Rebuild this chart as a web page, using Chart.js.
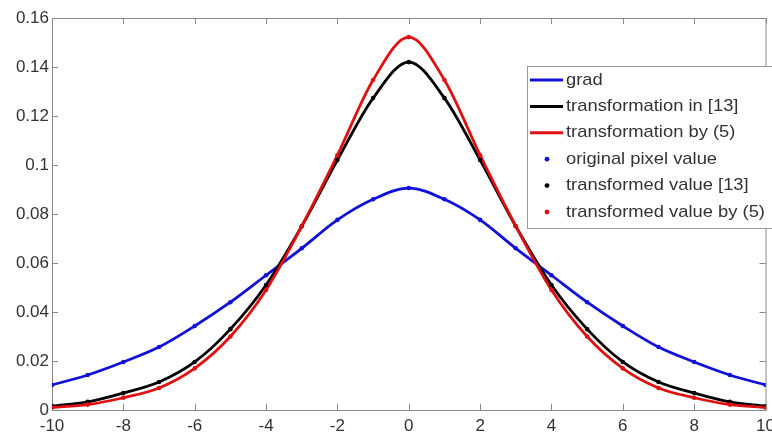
<!DOCTYPE html>
<html>
<head>
<meta charset="utf-8">
<script src="https://cdn.jsdelivr.net/npm/chart.js@4.4.0/dist/chart.umd.min.js"></script>
<style>
html, body { margin: 0; padding: 0; background: #fff; overflow: hidden; }
#wrap { width: 781px; height: 437px; }
</style>
</head>
<body>
<div id="wrap"><canvas id="chart"></canvas></div>
<script>
// values, x = -10 .. 10
const xValues = [-10, -9, -8, -7, -6, -5, -4, -3, -2, -1, 0, 1, 2, 3, 4, 5, 6, 7, 8, 9, 10];
const gradValues = [0.0102, 0.0143, 0.0196, 0.0257, 0.0343, 0.044, 0.055, 0.066, 0.0776, 0.086, 0.0906,
                    0.086, 0.0776, 0.066, 0.055, 0.044, 0.0343, 0.0257, 0.0196, 0.0143, 0.0102];
const trans13Values = [0.0016, 0.0033, 0.0069, 0.0114, 0.0196, 0.033, 0.051, 0.075, 0.102, 0.1273, 0.142,
                       0.1273, 0.102, 0.075, 0.051, 0.033, 0.0196, 0.0114, 0.0069, 0.0033, 0.0016];
const trans5Values = [0.001, 0.0022, 0.005, 0.009, 0.017, 0.030, 0.049, 0.075, 0.104, 0.1347, 0.1522,
                      0.1347, 0.104, 0.075, 0.049, 0.030, 0.017, 0.009, 0.005, 0.0022, 0.001];
const xTickValues = [-10, -8, -6, -4, -2, 0, 2, 4, 6, 8, 10];
const yTickValues = [0, 0.02, 0.04, 0.06, 0.08, 0.1, 0.12, 0.14, 0.16];

const BLUE = '#1010d8';
const BLACK = '#000000';
const RED = '#e01010';
const FONT = '"Liberation Sans", Arial, sans-serif';

function toPoints(values) {
    return xValues.map((x, i) => ({ x: x, y: values[i] }));
}

function lineSet(label, values, color, order) {
    return {
        label, data: toPoints(values), borderColor: color, backgroundColor: color,
        borderWidth: 2.8, pointRadius: 0, showLine: true,
        cubicInterpolationMode: 'monotone', order
    };
}

function dotSet(label, values, color, order) {
    return {
        label, data: toPoints(values), borderColor: color, backgroundColor: color,
        pointRadius: 2.3, pointBorderWidth: 0, showLine: false, order
    };
}

// box round the plot with small inward ticks, matlab style
const frame = {
    id: 'frame',
    beforeDatasetsDraw(chart) {
        const { ctx, chartArea: a, scales } = chart;
        ctx.save();
        ctx.strokeStyle = '#8a8a8a';
        ctx.lineWidth = 1;
        ctx.strokeRect(a.left + 0.5, a.top + 0.5, a.right - a.left, a.bottom - a.top);
        ctx.beginPath();
        xTickValues.forEach(v => {
            const px = Math.round(scales.x.getPixelForValue(v)) + 0.5;
            ctx.moveTo(px, a.bottom); ctx.lineTo(px, a.bottom - 6);
            ctx.moveTo(px, a.top); ctx.lineTo(px, a.top + 6);
        });
        yTickValues.forEach(v => {
            const py = Math.round(scales.y.getPixelForValue(v)) + 0.5;
            ctx.moveTo(a.left, py); ctx.lineTo(a.left + 6, py);
            ctx.moveTo(a.right, py); ctx.lineTo(a.right - 6, py);
        });
        ctx.stroke();
        ctx.restore();
    }
};

const legendBox = {
    id: 'legendBox',
    afterDraw(chart) {
        const ctx = chart.ctx;
        const x0 = 527, y0 = 66, w = 260, h = 162;
        ctx.save();
        ctx.fillStyle = '#fff';
        ctx.fillRect(x0, y0, w, h);
        ctx.strokeStyle = '#9a9a9a';
        ctx.lineWidth = 1;
        ctx.strokeRect(x0 + 0.5, y0 + 0.5, w, h);
        ctx.font = '17px ' + FONT;
        ctx.textBaseline = 'middle';
        chart.data.datasets.forEach((ds, i) => {
            const y = 80 + i * 26.4;
            if (ds.showLine) {
                ctx.strokeStyle = ds.borderColor;
                ctx.lineWidth = 3;
                ctx.beginPath();
                ctx.moveTo(530, y); ctx.lineTo(563, y);
                ctx.stroke();
            } else {
                ctx.fillStyle = ds.backgroundColor;
                ctx.beginPath();
                ctx.arc(547, y, 2.4, 0, Math.PI * 2);
                ctx.fill();
            }
            ctx.fillStyle = '#333';
            ctx.save();
            ctx.translate(566, y);
            ctx.scale(1.08, 1);
            ctx.fillText(ds.label, 0, 0);
            ctx.restore();
        });
        ctx.restore();
    }
};

new Chart(document.getElementById('chart'), {
    type: 'scatter',
    data: {
        datasets: [
            lineSet('grad', gradValues, BLUE, 6),
            lineSet('transformation in [13]', trans13Values, BLACK, 5),
            lineSet('transformation by (5)', trans5Values, RED, 4),
            dotSet('original pixel value', gradValues, BLUE, 3),
            dotSet('transformed value [13]', trans13Values, BLACK, 2),
            dotSet('transformed value by (5)', trans5Values, RED, 1)
        ]
    },
    options: {
        responsive: true,
        maintainAspectRatio: false,
        animation: false,
        layout: { padding: { top: 18, left: 0, right: 0, bottom: 0 } },
        plugins: { legend: { display: false }, tooltip: { enabled: false } },
        scales: {
            x: {
                type: 'linear', min: -10, max: 10,
                grid: { display: false, drawTicks: false }, border: { display: false },
                afterBuildTicks: s => { s.ticks = xTickValues.map(v => ({ value: v })); },
                afterFit: s => { s.height = 27; },
                ticks: {
                    padding: 6, color: '#333', maxRotation: 0,
                    font: { family: FONT, size: 17 }
                }
            },
            y: {
                min: 0, max: 0.16,
                grid: { display: false, drawTicks: false }, border: { display: false },
                afterBuildTicks: s => { s.ticks = yTickValues.map(v => ({ value: v })); },
                afterFit: s => { s.width = 52; },
                ticks: {
                    padding: 3, color: '#333',
                    font: { family: FONT, size: 17 },
                    callback: v => String(Number(v.toFixed(2)))
                }
            }
        }
    },
    plugins: [frame, legendBox]
});
</script>
</body>
</html>
